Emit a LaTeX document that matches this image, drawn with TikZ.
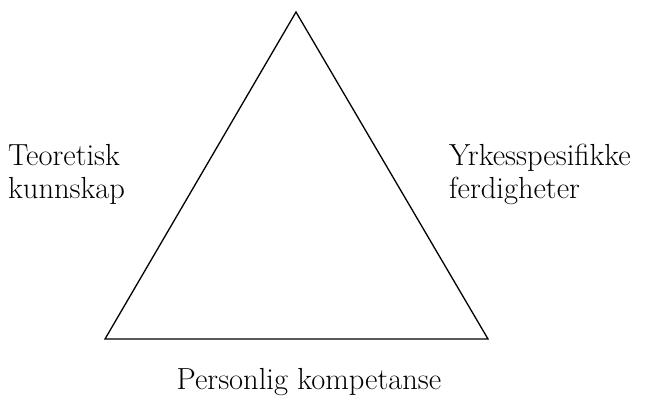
\documentclass[tikz,border=0pt]{standalone}
\usepackage{fontspec}
\usepackage{tikz}
\usetikzlibrary{positioning}

\tikzset{
  side/.style={font=\fontsize{30.5}{33}\selectfont, align=left, inner sep=0pt, anchor=base west},
  edge/.style={line width=1.3pt, line join=miter}
}

\begin{document}
\begin{tikzpicture}[x=1pt, y=-1pt]
      \useasboundingbox (0,0) rectangle (646,404);
      \coordinate (top) at (296,12);
      \coordinate (left) at (105,339);
      \coordinate (right) at (488,339);
      \draw[edge] (top) -- (left) -- (right) -- cycle;
      \node[side] (teori) at (8,198) {Teoretisk\\kunnskap};
      \node[side] (yrke) at (449,198) {Yrkesspesifikke\\ferdigheter};
      \node[side, anchor=base] (person) at (309,389) {Personlig kompetanse};
    \end{tikzpicture}
\end{document}
